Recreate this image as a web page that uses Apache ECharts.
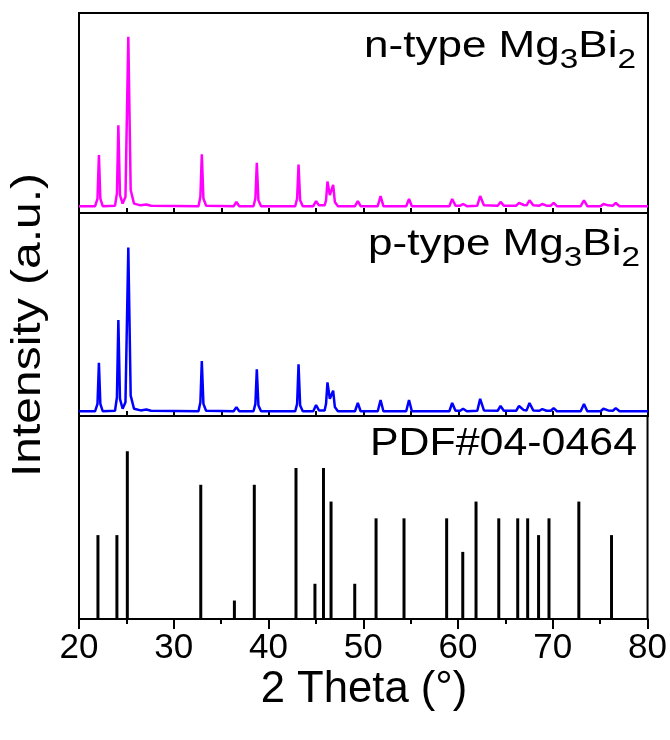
<!DOCTYPE html>
<html>
<head>
<meta charset="utf-8">
<script src="https://cdn.jsdelivr.net/npm/echarts@6/dist/echarts.min.js"></script>
<style>
  html, body { margin: 0; padding: 0; background: #fff; }
  #chart { width: 670px; height: 740px; }
</style>
</head>
<body>
<div id="chart"></div>
<script>
// 2 theta (deg) vs relative intensity (%)
const nTypePattern = [
  [20.0, 0.5], [21.7, 0.5], [21.95, 5], [22.1, 30.6], [22.25, 5], [22.5, 0.5],
  [23.8, 0.8], [24.0, 8], [24.15, 48], [24.32, 7], [24.6, 2], [24.9, 6], [25.2, 100], [25.45, 10], [25.8, 2], [26.5, 1], [27.1, 1.5], [27.6, 0.8],
  [32.6, 0.5], [32.8, 6], [32.95, 31], [33.12, 5], [33.4, 0.8],
  [36.3, 0.5], [36.6, 3], [36.9, 0.5],
  [38.4, 0.5], [38.6, 5], [38.75, 26], [38.92, 4], [39.2, 0.5],
  [42.8, 0.5], [43.0, 5], [43.15, 25], [43.32, 4], [43.6, 0.5],
  [44.7, 0.5], [45.0, 3.5], [45.3, 1],
  [45.9, 1], [46.05, 4], [46.2, 15], [46.45, 7], [46.8, 13], [46.98, 3], [47.3, 0.5],
  [49.1, 0.5], [49.4, 3.5], [49.7, 0.5],
  [51.5, 0.5], [51.8, 6.5], [52.1, 0.5],
  [54.5, 0.5], [54.8, 4.7], [55.1, 0.5],
  [59.05, 0.5], [59.35, 4.7], [59.7, 0.8], [60.2, 0.8], [60.5, 1.8], [60.9, 0.5],
  [62.0, 0.8], [62.3, 6.5], [62.7, 1], [64.15, 0.8], [64.45, 3], [64.8, 0.8],
  [66.1, 0.8], [66.4, 2.4], [66.9, 1.2], [67.2, 1], [67.5, 4], [67.9, 1], [68.55, 0.8], [68.85, 1.8], [69.3, 0.8], [69.75, 0.8], [70.05, 2.4], [70.4, 0.5],
  [72.9, 0.5], [73.25, 4], [73.6, 0.5],
  [75.0, 0.5], [75.3, 1.8], [75.8, 1], [76.3, 0.8], [76.6, 2.4], [77.0, 0.5],
  [80.0, 0.5]
];

const pTypePattern = [
  [20.0, 0.5], [21.7, 0.5], [21.95, 5], [22.1, 30], [22.25, 5], [22.5, 0.5],
  [23.8, 0.8], [24.0, 9], [24.15, 56], [24.32, 8], [24.6, 2], [24.9, 6], [25.2, 100], [25.45, 10], [25.8, 2], [26.5, 1], [27.1, 1.5], [27.6, 0.8],
  [32.6, 0.5], [32.8, 6], [32.95, 31], [33.12, 5], [33.4, 0.8],
  [36.3, 0.5], [36.6, 3], [36.9, 0.5],
  [38.4, 0.5], [38.6, 5], [38.75, 26], [38.92, 4], [39.2, 0.5],
  [42.8, 0.5], [43.0, 5], [43.15, 29], [43.32, 4], [43.6, 0.5],
  [44.7, 0.5], [45.0, 4.3], [45.3, 1],
  [45.9, 1], [46.05, 5], [46.2, 18], [46.45, 8], [46.8, 13], [46.98, 3], [47.3, 0.5],
  [49.1, 0.5], [49.4, 5.5], [49.7, 0.5],
  [51.5, 0.5], [51.8, 7.3], [52.1, 0.5],
  [54.5, 0.5], [54.8, 7.3], [55.1, 0.5],
  [59.05, 0.5], [59.35, 5.5], [59.7, 0.8], [60.2, 0.8], [60.5, 2], [60.9, 0.5],
  [62.0, 0.8], [62.3, 8], [62.7, 1], [64.15, 0.8], [64.45, 3.7], [64.8, 0.8],
  [66.1, 0.8], [66.4, 3.7], [66.9, 1.2], [67.2, 1], [67.5, 5.5], [67.9, 1], [68.55, 0.8], [68.85, 1.8], [69.3, 0.8], [69.75, 0.8], [70.05, 2.4], [70.4, 0.5],
  [72.9, 0.5], [73.25, 4.9], [73.6, 0.5],
  [75.0, 0.5], [75.3, 2], [75.8, 1], [76.3, 0.8], [76.6, 2.4], [77.0, 0.5],
  [80.0, 0.5]
];

// reference card sticks
const pdfTheta = [22.0, 24.0, 25.1, 32.85, 36.4, 38.5, 42.9, 44.9, 45.8, 46.6, 49.1, 51.35, 54.3, 58.8, 60.5, 61.9, 64.3, 66.3, 67.35, 68.5, 69.6, 72.75, 76.2];
const pdfIntensity = [50, 50, 100, 80, 11, 80, 90, 21, 90, 70, 21, 60, 60, 60, 40, 70, 60, 60, 60, 50, 60, 70, 50];

const xTicks = [20, 30, 40, 50, 60, 70, 80];

const chart = echarts.init(document.getElementById("chart"), null, { renderer: "canvas" });

const font = "'Liberation Sans', Arial, sans-serif";
const left = 79, right = 22;
const grids = [
  { left, right, top: 13, height: 200 },
  { left, right, top: 213, height: 203 },
  { left, right, top: 416, height: 203 },
].map((g) => ({ ...g, show: true, borderColor: "#000", borderWidth: 2, backgroundColor: "transparent" }));

function xAxisFor(i) {
  const bottom = i === 2;
  return {
    type: "value",
    gridIndex: i,
    min: xTicks[0],
    max: xTicks[xTicks.length - 1],
    interval: 10,
    axisLine: { show: true, onZero: false, lineStyle: { color: "#000", width: 2 } },
    axisTick: { show: true, inside: !bottom, length: bottom ? 10 : 5, lineStyle: { color: "#000", width: 2 } },
    minorTick: { show: true, splitNumber: 2, length: 5, lineStyle: { color: "#000", width: 2 } },
    splitLine: { show: false },
    axisLabel: {
      show: bottom,
      color: "#000",
      fontFamily: font,
      fontSize: 35,
      margin: 12,
    },
  };
}

const yRanges = [
  { min: -3.5, max: 114 },
  { min: -2.4, max: 121 },
  { min: 0, max: 121 },
];

const panelLabel = (x, y, fs, text) => ({
  type: "text",
  x,
  y,
  scaleX: 1.19,
  style: {
    text,
    align: "right",
    verticalAlign: "middle",
    fill: "#000",
    font: `${fs}px ${font}`,
    rich: {
      m: { fontSize: fs, fontFamily: font, lineHeight: 54, verticalAlign: "middle" },
      s: { fontSize: 28, fontFamily: font, lineHeight: 26, verticalAlign: "bottom" },
    },
  },
});

chart.setOption({
  animation: false,
  grid: grids,
  xAxis: [0, 1, 2].map(xAxisFor),
  yAxis: yRanges.map((r, i) => ({ type: "value", gridIndex: i, min: r.min, max: r.max, show: false })),
  series: [
    {
      type: "line",
      xAxisIndex: 0,
      yAxisIndex: 0,
      data: nTypePattern,
      showSymbol: false,
      lineStyle: { color: "#ff00ff", width: 2.5 },
      itemStyle: { color: "#ff00ff" },
    },
    {
      type: "line",
      xAxisIndex: 1,
      yAxisIndex: 1,
      data: pTypePattern,
      showSymbol: false,
      lineStyle: { color: "#0000ff", width: 2.5 },
      itemStyle: { color: "#0000ff" },
    },
    {
      type: "bar",
      xAxisIndex: 2,
      yAxisIndex: 2,
      data: pdfTheta.map((t, i) => [t, pdfIntensity[i]]),
      barWidth: 3,
      itemStyle: { color: "#000" },
    },
  ],
  graphic: [
    panelLabel(636, 47, 37, "{m|n-type Mg}{s|3}{m|Bi}{s|2}"),
    panelLabel(640, 245, 37, "{m|p-type Mg}{s|3}{m|Bi}{s|2}"),
    {
      type: "text",
      x: 637,
      y: 444,
      scaleX: 1.1,
      style: { text: "PDF#04-0464", align: "right", verticalAlign: "middle", fill: "#000", font: `39px ${font}` },
    },
    {
      type: "text",
      x: 29,
      y: 325,
      rotation: Math.PI / 2,
      scaleX: 1.2,
      style: { text: "Intensity (a.u.)", align: "center", verticalAlign: "middle", fill: "#000", font: `40px ${font}` },
    },
    {
      type: "text",
      x: 364,
      y: 690,
      scaleX: 0.97,
      style: { text: "2 Theta (°)", align: "center", verticalAlign: "middle", fill: "#000", font: `45px ${font}` },
    },
  ],
});
</script>
</body>
</html>
